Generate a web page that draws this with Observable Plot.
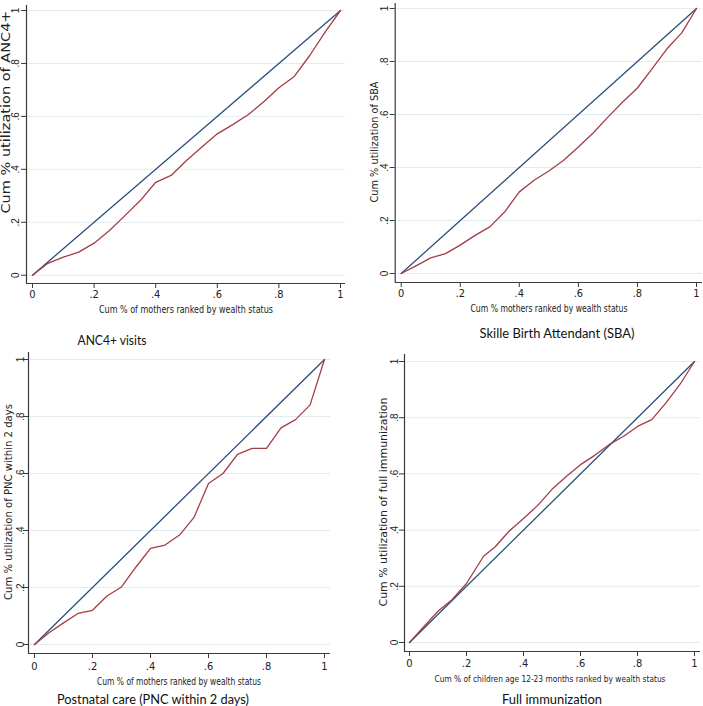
<!DOCTYPE html>
<html><head><meta charset="utf-8">
<script src="https://cdn.jsdelivr.net/npm/d3@7"></script>
<script src="https://cdn.jsdelivr.net/npm/@observablehq/plot@0.6"></script>
<style>
body{margin:0;background:#fff;}
#root{position:relative;width:703px;height:706px;overflow:hidden;background:#fff;}
.p{position:absolute;}
#overlay{position:absolute;left:0;top:0;pointer-events:none;}
</style></head><body><div id="root"></div>
<script>
// ---- data ----
const share = [0,0.05,0.10,0.15,0.20,0.25,0.30,0.35,0.40,0.45,0.50,0.55,0.60,0.65,0.70,0.75,0.80,0.85,0.90,0.95,1];
const anc4 = [0,0.045,0.068,0.087,0.121,0.169,0.225,0.282,0.351,0.377,0.433,0.484,0.534,0.569,0.606,0.654,0.708,0.751,0.83,0.918,1];
const sba  = [0,0.029,0.059,0.075,0.107,0.144,0.176,0.232,0.308,0.352,0.387,0.427,0.477,0.53,0.59,0.647,0.70,0.773,0.848,0.908,1];
const pnc  = [0,0.041,0.076,0.109,0.12,0.17,0.202,0.272,0.337,0.349,0.384,0.446,0.565,0.60,0.667,0.688,0.688,0.76,0.789,0.84,1];
const immShare = [0,0.05,0.10,0.15,0.20,0.26,0.30,0.35,0.40,0.45,0.50,0.55,0.60,0.65,0.70,0.75,0.80,0.85,0.90,0.95,1];
const imm  = [0,0.056,0.111,0.153,0.21,0.307,0.34,0.397,0.441,0.488,0.545,0.591,0.633,0.666,0.704,0.733,0.769,0.793,0.853,0.92,1];
const equality = [0, 1];
const tickVals = [0, 0.2, 0.4, 0.6, 0.8, 1];
const tickLabels = ["0", ".2", ".4", ".6", ".8", "1"];

const titles = ["ANC4+ visits", "Skille Birth Attendant (SBA)", "Postnatal care (PNC within 2 days)", "Full immunization"];
const yLabels = ["Cum % utilization of ANC4+", "Cum % utilization of SBA", "Cum % utilization of PNC within 2 days", "Cum % utilization of full immunization"];
const xLabels = ["Cum % of mothers ranked by wealth status", "Cum % mothers ranked by wealth status", "Cum % of mothers ranked by wealth status", "Cum % of children age 12-23 months ranked by wealth status"];

// ---- layout ----
const BLUE = "#2b4f78", RED = "#a33d46", AXIS = "#3a3a3a", GRID = "#e2ecef";
const NARROW = "'Liberation Sans Narrow','DejaVu Sans Condensed','Arial Narrow',sans-serif";
const panels = [
  {left:0,   top:0,   w:352, h:318, x0:32,    x1:340, axL:26,    R:345, y0:274.7, y1:10,  axB:283, T:5,   xPad:2, yPad:3,
   yl:{x:6, y:112, len:203, fs:12}, xl:{x:186, y:309.5, len:174, fs:11}, t:{x:112, y:340, len:69}},
  {left:352, top:0,   w:351, h:318, x0:400.7, x1:696, axL:394.7, R:702, y0:273,   y1:8,   axB:282, T:3,   xPad:2, yPad:2,
   yl:{x:374, y:142, len:121, fs:11}, xl:{x:549, y:308, len:157, fs:10.5}, t:{x:557, y:333, len:155}},
  {left:0,   top:330, w:352, h:360, x0:34,    x1:324, axL:28,    R:330, y0:644,   y1:359, axB:653, T:352, xPad:4, yPad:0,
   yl:{x:8.5, y:502, len:196, fs:11}, xl:{x:179, y:681, len:164, fs:11}, t:{x:153, y:699, len:192}},
  {left:352, top:330, w:351, h:360, x0:409,   x1:694, axL:404,   R:700, y0:642,   y1:361, axB:651, T:354, xPad:3, yPad:2,
   yl:{x:383, y:502, len:209, fs:11}, xl:{x:550, y:678, len:231, fs:9.3}, t:{x:552, y:699, len:100}}
];
const series = [[share, anc4], [share, sba], [share, pnc], [immShare, imm]];

const root = document.getElementById("root");
const fmt = d => tickLabels[tickVals.indexOf(d)] ?? String(d);

panels.forEach((c, i) => {
  const [xs, ys] = series[i];
  const ux = c.x1 - c.x0, uy = c.y0 - c.y1;
  const xDom = [-(c.x0 - c.axL) / ux, 1 + (c.R - c.x1) / ux];
  const yDom = [-(c.axB - c.y0) / uy, 1 + (c.y1 - c.T) / uy];
  const curve = xs.map((x, k) => ({x, y: ys[k]}));
  const eq = equality.map(v => ({x: v, y: v}));
  const plot = Plot.plot({
    width: c.w, height: c.h,
    marginLeft: c.axL - c.left, marginRight: c.left + c.w - c.R,
    marginTop: c.T - c.top, marginBottom: c.top + c.h - c.axB,
    x: {domain: xDom},
    y: {domain: yDom},
    style: {background: "transparent", overflow: "visible"},
    marks: [
      Plot.gridY(tickVals, {stroke: GRID, strokeOpacity: 1, strokeWidth: 1}),
      Plot.line(eq, {x: "x", y: "y", stroke: BLUE, strokeWidth: 1.3}),
      Plot.line(curve, {x: "x", y: "y", stroke: RED, strokeWidth: 1.3}),
      Plot.ruleX([xDom[0]], {stroke: AXIS, strokeWidth: 1.2}),
      Plot.ruleY([yDom[0]], {stroke: AXIS, strokeWidth: 1.2}),
      Plot.axisX(tickVals, {tickFormat: fmt, tickSize: 5, tickPadding: c.xPad, label: null, stroke: AXIS, fill: "#222", fontSize: 11, fontFamily: NARROW}),
      Plot.axisY(tickVals, {tickFormat: fmt, tickSize: 5, tickPadding: c.yPad, tickRotate: -90, label: null, stroke: AXIS, fill: "#222", fontSize: 10, fontFamily: "'Liberation Sans',Arial,sans-serif"})
    ]
  });
  plot.classList.add("p");
  plot.style.left = c.left + "px";
  plot.style.top = c.top + "px";
  root.appendChild(plot);
});

// ---- titles and axis labels (real text) ----
const ov = d3.select(root).append("svg").attr("id", "overlay").attr("width", 703).attr("height", 706);
panels.forEach((c, i) => {
  ov.append("text")
    .attr("transform", `translate(${c.yl.x},${c.yl.y}) rotate(-90)`)
    .attr("text-anchor", "middle").attr("dominant-baseline", "central")
    .attr("font-family", "'DejaVu Sans',Verdana,sans-serif").attr("font-size", c.yl.fs)
    .attr("fill", "#222")
    .attr("textLength", c.yl.len).attr("lengthAdjust", "spacingAndGlyphs")
    .text(yLabels[i]);
  ov.append("text")
    .attr("x", c.xl.x).attr("y", c.xl.y)
    .attr("text-anchor", "middle").attr("dominant-baseline", "central")
    .attr("font-family", NARROW).attr("font-size", c.xl.fs)
    .attr("fill", "#222")
    .attr("textLength", c.xl.len).attr("lengthAdjust", "spacingAndGlyphs")
    .text(xLabels[i]);
  ov.append("text")
    .attr("x", c.t.x).attr("y", c.t.y)
    .attr("text-anchor", "middle").attr("dominant-baseline", "central")
    .attr("font-family", "Lato,'Open Sans',sans-serif").attr("font-size", 13.5)
    .attr("fill", "#111")
    .attr("textLength", c.t.len).attr("lengthAdjust", "spacingAndGlyphs")
    .text(titles[i]);
});
</script>
</body></html>
